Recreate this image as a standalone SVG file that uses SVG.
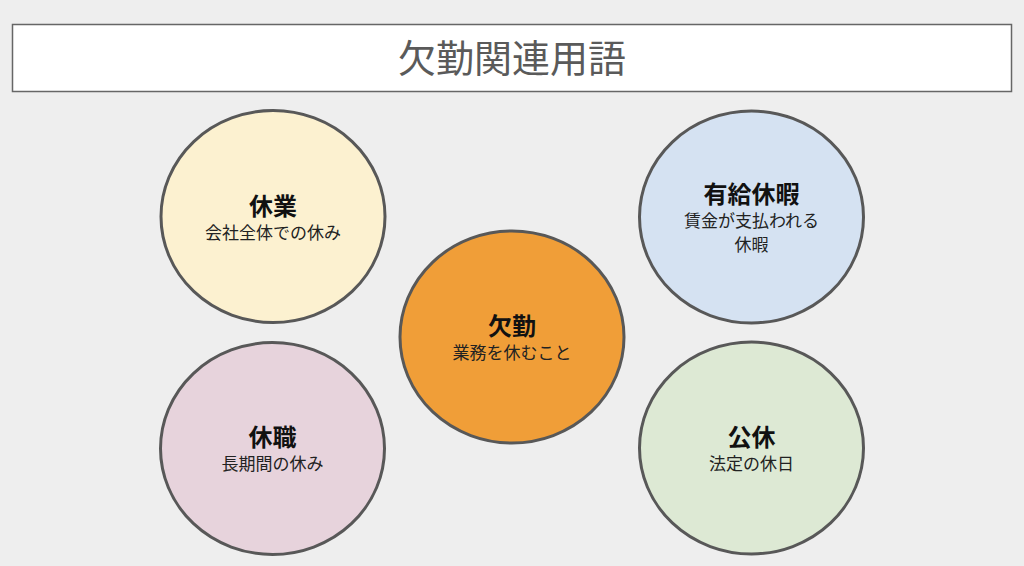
<svg xmlns="http://www.w3.org/2000/svg" width="1024" height="566" viewBox="0 0 1024 566">
<style>
text{font-family:"Noto Sans CJK JP","Noto Sans",sans-serif;text-anchor:middle}
.c{stroke:#585858;stroke-width:3}
.t{font-size:24px;font-weight:bold;fill:#111}
.s{font-size:17px;fill:#222}
</style>
<rect width="1024" height="566" fill="#eeeeee"/>
<g id="title">
<rect x="12.5" y="24.5" width="999" height="67" fill="#ffffff" stroke="#666666" stroke-width="1.5"/>
<text x="512" y="71.5" font-size="38" fill="#5a5a5a">欠勤関連用語</text>
</g>
<g id="connectors"></g>
<g id="kyugyo">
<ellipse class="c" cx="273" cy="216.5" rx="112" ry="106" fill="#fcf1d0"/>
<text class="t" x="273" y="214.5">休業</text>
<text class="s" x="273" y="238.5">会社全体での休み</text>
</g>
<g id="yukyu">
<ellipse class="c" cx="751.5" cy="217" rx="112" ry="106" fill="#d5e2f2"/>
<text class="t" x="751.5" y="203">有給休暇</text>
<text class="s" x="751.5" y="227">賃金が支払われる</text>
<text class="s" x="751.5" y="250.5">休暇</text>
</g>
<g id="kekkin">
<ellipse class="c" cx="512" cy="337" rx="112" ry="106" fill="#f09e38"/>
<text class="t" x="512" y="334.5">欠勤</text>
<text class="s" x="512" y="358.5">業務を休むこと</text>
</g>
<g id="kyushoku">
<ellipse class="c" cx="272.5" cy="448.5" rx="112" ry="106" fill="#e7d3dc"/>
<text class="t" x="272.5" y="445.5">休職</text>
<text class="s" x="272.5" y="469.5">長期間の休み</text>
</g>
<g id="kokyu">
<ellipse class="c" cx="751.5" cy="448" rx="112" ry="106" fill="#dde9d4"/>
<text class="t" x="751.5" y="445.5">公休</text>
<text class="s" x="751.5" y="469.5">法定の休日</text>
</g>
</svg>
